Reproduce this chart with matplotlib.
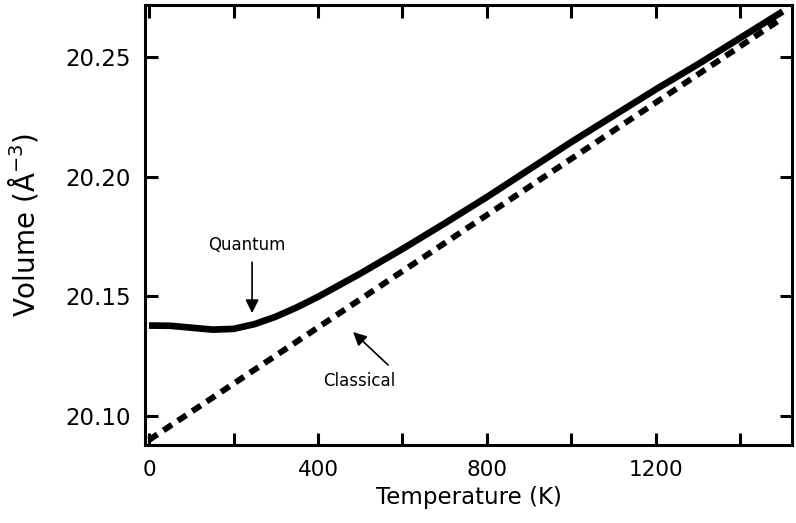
import matplotlib
matplotlib.use("Agg")
import matplotlib.pyplot as plt
from matplotlib.ticker import MultipleLocator

plt.rcParams['font.family'] = ['DejaVu Sans']
plt.rcParams['mathtext.fontset'] = 'dejavusans'

quantum_T = [0, 50, 100, 150, 200, 250, 300, 350, 400, 500, 600, 700, 800, 900, 1000, 1100, 1200, 1300, 1400, 1500]
quantum_V = [20.1378, 20.1377, 20.1369, 20.1361, 20.1364, 20.1384, 20.1415, 20.1454, 20.1498,
             20.1595, 20.1698, 20.1805, 20.1915, 20.2030, 20.2145, 20.2255, 20.2365, 20.2470, 20.2580, 20.2690]

classical_T = [0, 400, 800, 1200, 1500]
classical_V = [20.0900, 20.1370, 20.1840, 20.2310, 20.2663]

x_ticks = [0, 400, 800, 1200]
y_ticks = [20.10, 20.15, 20.20, 20.25]
y_tick_labels = ['20.10', '20.15', '20.20', '20.25']

fig = plt.figure(figsize=(7.96, 5.23), dpi=100)
ax = fig.add_axes([145/796, 1-445/523, (792-145)/796, (445-5)/523])

ax.plot(quantum_T, quantum_V, color='black', lw=4.8, solid_capstyle='butt', solid_joinstyle='round')
ax.plot(classical_T, classical_V, color='black', lw=4.3, linestyle=(0, (1.7, 1.2)))

ax.set_xlim(-9.5, 1522)
ax.set_ylim(20.0879, 20.2717)
ax.set_xticks(x_ticks)
ax.set_yticks(y_ticks)
ax.set_yticklabels(y_tick_labels)
ax.xaxis.set_minor_locator(MultipleLocator(200))
ax.tick_params(which='both', direction='in', top=True, right=True, width=2.2, length=9)
ax.tick_params(axis='y', labelsize=16.5, pad=10)
ax.tick_params(axis='x', labelsize=15.5, pad=11)
for s in ax.spines.values():
    s.set_linewidth(2.2)

ax.set_xlabel('Temperature (K)', fontsize=16.5, labelpad=4)
ax.set_ylabel('Volume (Å$^{-3}$)', fontsize=20, labelpad=18)

ax.text(232, 20.1714, 'Quantum', ha='center', va='center', fontsize=12)
ax.annotate('', xy=(244, 20.1430), xytext=(244, 20.1643),
            arrowprops=dict(arrowstyle='-|>', color='black', lw=1.2, mutation_scale=20, shrinkA=0, shrinkB=0))
ax.text(497, 20.1146, 'Classical', ha='center', va='center', fontsize=12)
ax.annotate('', xy=(483, 20.1351), xytext=(566, 20.1213),
            arrowprops=dict(arrowstyle='-|>', color='black', lw=1.2, mutation_scale=20, shrinkA=0, shrinkB=0))

fig.savefig('out.png', dpi=100)
